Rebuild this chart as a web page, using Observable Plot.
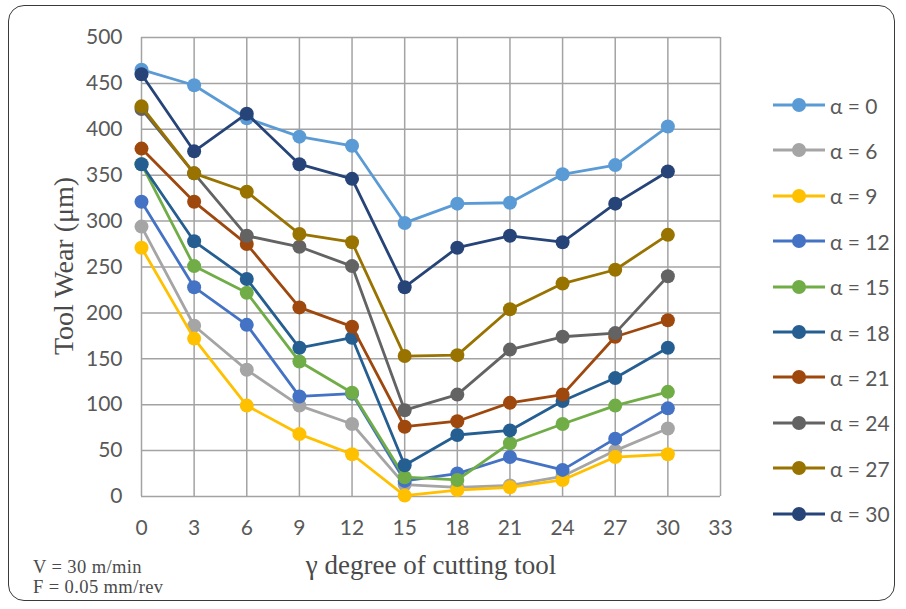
<!DOCTYPE html>
<html>
<head>
<meta charset="utf-8">
<script src="https://cdn.jsdelivr.net/npm/d3@7"></script>
<script src="https://cdn.jsdelivr.net/npm/@observablehq/plot@0.6"></script>
<style>
  html, body { margin: 0; padding: 0; background: #fff; }
  #wrap { position: relative; width: 906px; height: 609px; overflow: hidden; background: #fff; }
  #frame { position: absolute; left: 8px; top: 5px; width: 887px; height: 596px; border: 1.6px solid #3a3a3a; border-radius: 16px; box-sizing: border-box; }
  #chart { position: absolute; left: 0; top: 0; }
  .ttl { position: absolute; font-family: "Liberation Serif", "DejaVu Serif", serif; color: #4a4a4a; white-space: nowrap; }
  .note { position: absolute; left: 33px; font-family: "Liberation Serif", "DejaVu Serif", serif; color: #4a4a4a; white-space: nowrap; font-size: 18.5px; line-height: 19px; letter-spacing: 0.4px; }
  #legend { position: absolute; left: 772px; top: 0; font-family: Lato, "Open Sans", sans-serif; font-size: 21px; color: #595959; }
  .li { position: absolute; left: 0; height: 24px; display: flex; align-items: center; white-space: nowrap; }
  .li svg { display: block; }
  .li span { margin-left: 4px; }
</style>
</head>
<body>
<div id="wrap">
  <div id="chart"></div>
  <div id="frame"></div>
  <div class="ttl" id="ylab" style="left:64px; top:266px; font-size:28px; transform: translate(-50%,-50%) rotate(-90deg);">Tool Wear (μm)</div>
  <div class="ttl" id="xlab" style="left:431px; top:565px; font-size:27px; transform: translate(-50%,-50%);">γ degree of cutting tool</div>
  <div class="note" style="top:558px;">V = 30 m/min</div>
  <div class="note" style="top:578px;">F = 0.05 mm/rev</div>
  <div id="legend"></div>
</div>
<script>
// ---- data ----
const gamma = [0, 3, 6, 9, 12, 15, 18, 21, 24, 27, 30];
const xTicks = [0, 3, 6, 9, 12, 15, 18, 21, 24, 27, 30, 33];
const yTicks = [0, 50, 100, 150, 200, 250, 300, 350, 400, 450, 500];
const seriesLabels = ["α = 0", "α = 6", "α = 9", "α = 12", "α = 15", "α = 18", "α = 21", "α = 24", "α = 27", "α = 30"];
const seriesColors = ["#5B9BD5", "#A5A5A5", "#FFC000", "#4472C4", "#70AD47", "#255E91", "#9E480E", "#636363", "#997300", "#264478"];

const wearA0  = [465, 448, 412, 392, 382, 298, 319, 320, 351, 361, 403];
const wearA6  = [294, 186, 138, 99, 79, 13, 10, 12, 22, 50, 74];
const wearA9  = [271, 172, 99, 68, 46, 1, 7, 10, 18, 43, 46];
const wearA12 = [321, 228, 187, 109, 112, 17, 25, 43, 29, 63, 96];
const wearA15 = [362, 251, 222, 147, 113, 21, 18, 58, 79, 99, 114];
const wearA18 = [362, 278, 237, 162, 173, 34, 67, 72, 104, 129, 162];
const wearA21 = [379, 321, 275, 206, 185, 76, 82, 102, 111, 174, 192];
const wearA24 = [422, 352, 284, 272, 251, 94, 111, 160, 174, 178, 240];
const wearA27 = [425, 352, 332, 286, 277, 153, 154, 204, 232, 247, 285];
const wearA30 = [460, 376, 417, 362, 346, 228, 271, 284, 277, 319, 354];

const seriesValues = [wearA0, wearA6, wearA9, wearA12, wearA15, wearA18, wearA21, wearA24, wearA27, wearA30];

const rows = [];
seriesValues.forEach((vals, i) => {
  vals.forEach((v, j) => rows.push({series: seriesLabels[i], gamma: gamma[j], wear: v}));
});

const marks = [
  Plot.gridX(xTicks, {stroke: "#a3a3a3", strokeOpacity: 1, strokeWidth: 1.5}),
  Plot.gridY(yTicks, {stroke: "#a3a3a3", strokeOpacity: 1, strokeWidth: 1.5}),
  Plot.axisX(xTicks, {tickSize: 0, tickPadding: 24, fontSize: 21, fill: "#595959", label: null}),
  Plot.axisY(yTicks, {tickSize: 0, tickPadding: 19, fontSize: 21, fill: "#595959", label: null})
];
seriesLabels.forEach((s, i) => {
  const d = rows.filter(r => r.series === s);
  marks.push(Plot.line(d, {x: "gamma", y: "wear", stroke: "series", strokeWidth: 2.8}));
  marks.push(Plot.dot(d, {x: "gamma", y: "wear", fill: "series", r: 7}));
});

const chart = Plot.plot({
  width: 906,
  height: 609,
  marginLeft: 141,
  marginRight: 186,
  marginTop: 37,
  marginBottom: 113,
  style: {fontFamily: "Lato, 'Open Sans', sans-serif", background: "transparent"},
  x: {domain: [0, 33]},
  y: {domain: [0, 500]},
  color: {domain: seriesLabels, range: seriesColors},
  marks
});
document.getElementById("chart").appendChild(chart);

// ---- legend ----
const legend = d3.select("#legend");
seriesLabels.forEach((s, i) => {
  const item = legend.append("div").attr("class", "li").style("top", (93 + i * 45.4) + "px");
  const svg = item.append("svg").attr("width", 54).attr("height", 20);
  svg.append("line").attr("x1", 1).attr("x2", 53).attr("y1", 10).attr("y2", 10)
     .attr("stroke", seriesColors[i]).attr("stroke-width", 2.8);
  svg.append("circle").attr("cx", 27).attr("cy", 10).attr("r", 7).attr("fill", seriesColors[i]);
  item.append("span").text(s);
});
</script>
</body>
</html>
